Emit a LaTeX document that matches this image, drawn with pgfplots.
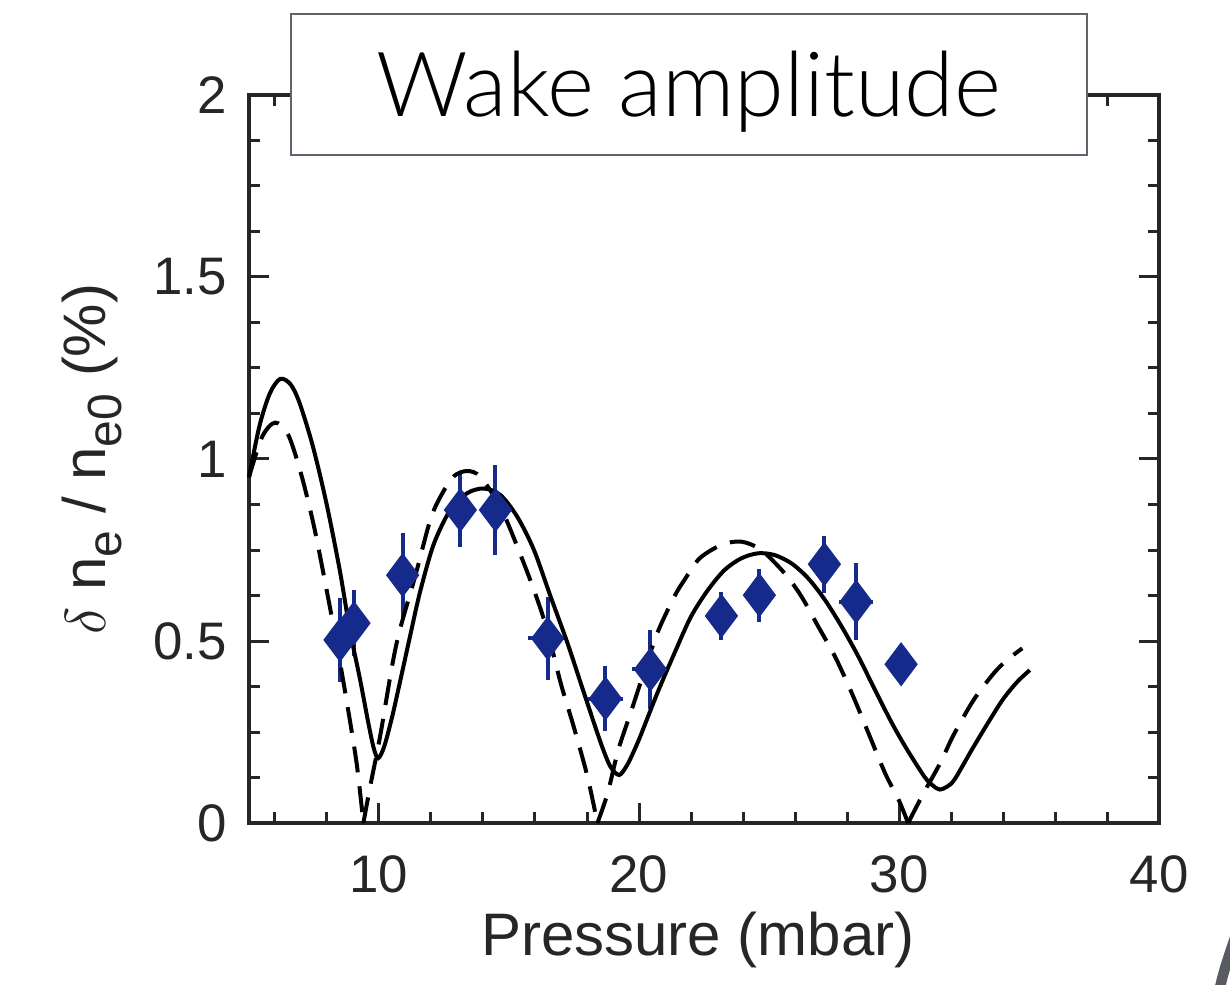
\documentclass[border=0pt]{standalone}
\usepackage{fontspec}
\setmainfont{Liberation Sans}
\newfontfamily\titlefont{Lato Light}
\usepackage{pgfplots}
\usepackage{pgfplotstable}
\pgfplotsset{compat=1.18}
\definecolor{navy}{RGB}{22,42,140}
\definecolor{axgray}{RGB}{38,38,38}
\definecolor{boxgray}{RGB}{95,99,107}
\definecolor{strokegray}{RGB}{88,91,98}

\pgfplotstableread{
x y ex ey
8.50 0.503 0 0.115
9.04 0.549 0 0.09
10.91 0.681 0.3 0.115
13.13 0.860 0 0.103
14.48 0.860 0 0.123
16.49 0.507 0.75 0.115
18.71 0.342 0.66 0.089
20.44 0.422 0.70 0.108
23.17 0.569 0 0.066
24.63 0.626 0 0.073
27.13 0.711 0 0.078
28.35 0.608 0.65 0.105
30.08 0.436 0 0
}\measured

\newcommand{\sub}[1]{\raisebox{-0.5ex}{\fontsize{12}{12}\selectfont #1}}

\begin{document}
\begin{tikzpicture}
\begin{axis}[
  scale only axis, width=227.5pt, height=182pt,
  xmin=5, xmax=40, ymin=0, ymax=2,
  xtick={10,20,30,40},
  minor xtick={6,8,12,14,16,18,22,24,26,28,32,34,36,38},
  ytick={0,0.5,1,1.5,2},
  minor y tick num=3,
  tick align=inside,
  major tick length=5pt, minor tick length=2.75pt,
  axis line style={axgray, line width=1pt},
  every tick/.style={axgray, line width=0.75pt},
  /pgf/number format/assume math mode=true,
  tick label style={font=\fontsize{13.2}{15}\selectfont, text=axgray},
  xticklabel style={yshift=-4.5pt},
  yticklabel style={xshift=-2pt},
  label style={font=\fontsize{15}{17}\selectfont, text=axgray},
  xlabel={Pressure (mbar)},
  ylabel={$\delta$ n\sub{e} / n\sub{e0} (\%)},
  xlabel style={at={(axis description cs:0.4934,-0.16)}, anchor=center},
  ylabel style={at={(axis description cs:-0.1725,0.5)}, anchor=center},
  clip=false,
]
\addplot[only marks, mark=diamond*, mark size=5.3pt, color=navy,
  mark options={fill=navy, draw=navy, line width=0.3pt},
  error bars/.cd, x dir=both, x explicit, y dir=both, y explicit,
  error bar style={line width=1pt, navy}, error mark=none]
  table[x=x, y=y, x error=ex, y error=ey] {\measured};

% solid model curve
\addplot[black, line width=1pt, smooth] coordinates {
(5.0,0.95)(5.4,1.09)(5.8,1.18)(6.2,1.22)(6.6,1.205)(6.95,1.153)(7.46,1.034)(7.98,0.878)(8.49,0.695)(8.88,0.53)(9.27,0.395)(9.59,0.275)(9.8,0.205)(9.97,0.178)(10.2,0.21)(10.5,0.29)(10.8,0.385)(11.2,0.515)(11.58,0.635)(12.1,0.765)(12.74,0.86)(13.39,0.906)(14.03,0.919)(14.67,0.901)(15.32,0.841)(15.96,0.75)(16.6,0.622)(17.25,0.494)(17.89,0.356)(18.53,0.22)(18.9,0.155)(19.24,0.132)(19.55,0.16)(19.82,0.2)(20.06,0.24)(20.7,0.356)(21.36,0.466)(22.0,0.567)(22.65,0.64)(23.29,0.695)(23.93,0.727)(24.58,0.741)(25.22,0.736)(25.87,0.713)(26.51,0.672)(27.15,0.613)(27.8,0.539)(28.44,0.457)(29.08,0.365)(29.73,0.274)(30.3,0.203)(30.98,0.127)(31.3,0.103)(31.56,0.092)(31.85,0.10)(32.14,0.12)(32.79,0.2)(33.43,0.276)(34.0,0.34)(34.55,0.388)(35.03,0.42)
};

% dashed model curve (four arches)
\addplot[black, line width=1pt, dash pattern=on 6.5pt off 3.5pt, smooth] coordinates {
(5.0,0.95)(5.5,1.06)(6.0,1.10)(6.5,1.068)(7.0,0.96)(7.5,0.815)(8.0,0.635)(8.37,0.494)(8.75,0.338)(9.14,0.164)(9.4,0.0)
};
\addplot[black, line width=1pt, dash pattern=on 6.5pt off 3.5pt, smooth] coordinates {
(9.4,0.0)(9.66,0.10)(10.04,0.237)(10.5,0.43)(10.8,0.53)(11.4,0.68)(11.97,0.832)(12.36,0.896)(12.87,0.952)(13.39,0.967)(13.9,0.951)(14.67,0.868)(15.32,0.759)(15.96,0.64)(16.47,0.53)(16.99,0.384)(17.5,0.262)(18.02,0.127)(18.4,0.0)
};
\addplot[black, line width=1pt, dash pattern=on 6.5pt off 3.5pt, smooth] coordinates {
(18.4,0.0)(18.79,0.081)(19.2,0.20)(19.69,0.305)(20.08,0.39)(20.7,0.521)(21.36,0.622)(21.75,0.668)(22.33,0.727)(23.17,0.764)(23.93,0.773)(24.7,0.75)(25.6,0.686)(26.25,0.622)(26.9,0.539)(27.54,0.457)(28.19,0.356)(28.83,0.246)(29.47,0.136)(29.99,0.063)(30.35,0.0)
};
\addplot[black, line width=1pt, dash pattern=on 6.5pt off 3.5pt, smooth] coordinates {
(30.35,0.0)(30.93,0.08)(31.58,0.164)(32.1,0.242)(32.87,0.338)(33.64,0.411)(34.16,0.448)(34.74,0.48)
};

% title box
\node[draw=boxgray, line width=0.5pt, fill=white, minimum width=199pt, minimum height=35.25pt, inner sep=0pt]
  at (axis description cs:0.4835,1.0144) {};
\node[font=\titlefont\fontsize{22.5}{24}\selectfont, text=black, yshift=-1.9pt]
  at (axis description cs:0.4835,1.0144) {Wake amplitude};

% decorative corner stroke
\draw[line width=2.6pt, color=strokegray] (rel axis cs:1.0648,-0.2363) .. controls (rel axis cs:1.072,-0.2) .. (rel axis cs:1.085,-0.152);

\coordinate (bbbl) at (rel axis cs:-0.2736,-0.2225);
\coordinate (bbtr) at (rel axis cs:1.078,1.1305);
\end{axis}
\pgfresetboundingbox
\useasboundingbox (bbbl) rectangle (bbtr);
\end{tikzpicture}
\end{document}
